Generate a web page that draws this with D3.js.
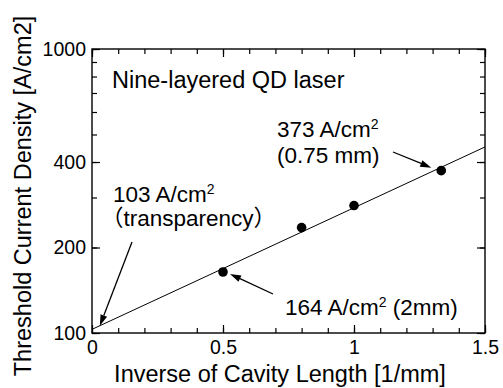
<!DOCTYPE html>
<html lang="en">
<head>
  <meta charset="UTF-8">
  <title>Threshold current density</title>
  <style>
    body { margin: 0; background: #fff; }
    svg { display: block; }
    text { font-family: "Liberation Sans", Arial, "Noto Sans CJK JP", sans-serif; fill: #000; }
    .tick text { font-size: 19.5px; }
    .axis-title { font-size: 23.5px; }
    .note { font-size: 22.5px; }
  </style>
</head>
<body>
<svg width="503" height="388"></svg>

<script src="https://cdn.jsdelivr.net/npm/d3@7/dist/d3.min.js"></script>
<script>
  // measured points: inverse cavity length [1/mm] vs threshold current density [A/cm2]
  const invLength = [0.5, 0.8, 1.0, 1.333];
  const jth = [164, 235, 281, 373];

  // fitted line (exponential, straight on the log axis)
  const fitX = [0, 1.5];
  const fitY = [103, 452];

  const xMinorTicks = [0, 0.1, 0.2, 0.3, 0.4, 0.5, 0.6, 0.7, 0.8, 0.9, 1.0, 1.1, 1.2, 1.3, 1.4, 1.5];
  const xMajorTicks = [0, 0.5, 1, 1.5];
  const yMinorTicks = [100, 200, 300, 400, 500, 600, 700, 800, 900, 1000];
  const yMajorTicks = [100, 200, 400, 1000];

  const svg = d3.select("svg");
  const plot = {left: 92, right: 485, top: 49, bottom: 333};

  const x = d3.scaleLinear().domain([0, 1.5]).range([plot.left, plot.right]);
  const y = d3.scaleLog().domain([100, 1000]).range([plot.bottom, plot.top]);

  function clean(g) {
    g.select(".domain").remove();
    g.selectAll(".tick line").attr("stroke", "#000").attr("stroke-width", 1.2);
  }

  // minor ticks on all four sides (pointing inward)
  svg.append("g").attr("transform", "translate(0," + plot.bottom + ")")
    .call(d3.axisBottom(x).tickValues(xMinorTicks).tickSize(-5).tickFormat(""))
    .call(clean);
  svg.append("g").attr("transform", "translate(0," + plot.top + ")")
    .call(d3.axisTop(x).tickValues(xMinorTicks).tickSize(-5).tickFormat(""))
    .call(clean);
  svg.append("g").attr("transform", "translate(" + plot.left + ",0)")
    .call(d3.axisLeft(y).tickValues(yMinorTicks).tickSize(-5).tickFormat(""))
    .call(clean);
  svg.append("g").attr("transform", "translate(" + plot.right + ",0)")
    .call(d3.axisRight(y).tickValues(yMinorTicks).tickSize(-5).tickFormat(""))
    .call(clean);

  // major ticks with labels
  svg.append("g").attr("transform", "translate(0," + plot.bottom + ")")
    .call(d3.axisBottom(x).tickValues(xMajorTicks).tickSize(-8).tickPadding(7)
      .tickFormat(d3.format("~g")))
    .call(clean);
  svg.append("g").attr("transform", "translate(0," + plot.top + ")")
    .call(d3.axisTop(x).tickValues(xMajorTicks).tickSize(-8).tickFormat(""))
    .call(clean);
  svg.append("g").attr("transform", "translate(" + plot.left + ",0)")
    .call(d3.axisLeft(y).tickValues(yMajorTicks).tickSize(-8).tickPadding(6)
      .tickFormat(d3.format("d")))
    .call(clean);
  svg.append("g").attr("transform", "translate(" + plot.right + ",0)")
    .call(d3.axisRight(y).tickValues(yMajorTicks).tickSize(-8).tickFormat(""))
    .call(clean);

  svg.selectAll("g").attr("font-family", null).attr("font-size", null);

  // frame
  svg.append("rect")
    .attr("x", plot.left).attr("y", plot.top)
    .attr("width", plot.right - plot.left).attr("height", plot.bottom - plot.top)
    .attr("fill", "none").attr("stroke", "#000").attr("stroke-width", 1.4);

  // fit line
  const line = d3.line().x(d => x(d[0])).y(d => y(d[1]));
  svg.append("path")
    .datum(d3.zip(fitX, fitY))
    .attr("d", line)
    .attr("fill", "none").attr("stroke", "#000").attr("stroke-width", 1);

  // points
  svg.selectAll("circle.pt")
    .data(d3.zip(invLength, jth))
    .join("circle")
    .attr("class", "pt")
    .attr("cx", d => x(d[0]))
    .attr("cy", d => y(d[1]))
    .attr("r", 4.8)
    .attr("fill", "#000");

  // axis titles
  svg.append("text")
    .attr("class", "axis-title")
    .attr("x", 280).attr("y", 382)
    .attr("text-anchor", "middle")
    .text("Inverse of Cavity Length [1/mm]");

  svg.append("text")
    .attr("class", "axis-title")
    .attr("transform", "translate(31,196) rotate(-90)")
    .attr("text-anchor", "middle")
    .text("Threshold Current Density [A/cm2]");

  // annotations
  svg.append("text")
    .attr("class", "note")
    .attr("x", 112).attr("y", 87.5)
    .style("font-size", "23.5px")
    .text("Nine-layered QD laser");

  function supText(xp, yp, before, after) {
    const t = svg.append("text").attr("class", "note").attr("x", xp).attr("y", yp);
    t.append("tspan").text(before);
    t.append("tspan").attr("dy", -8).style("font-size", "14px").text("2");
    if (after) t.append("tspan").attr("dy", 8).text(after);
    return t;
  }

  supText(277, 136.5, "373 A/cm");
  svg.append("text").attr("class", "note").attr("x", 277).attr("y", 163).text("(0.75 mm)");

  supText(113, 202, "103 A/cm");
  svg.append("text").attr("class", "note").attr("x", 101).attr("y", 226).text("（transparency）");

  supText(285, 315, "164 A/cm", " (2mm)");

  // arrows: start pixel, target data point, pixel offset of the tip
  const arrows = [
    {from: [393, 152], at: [1.333, 373], off: [-10, -3]},
    {from: [132, 242], at: [0.03, 106], off: [0, 0]},
    {from: [273, 294], at: [0.5, 164], off: [7, 2]}
  ];

  arrows.forEach(a => {
    const tx = x(a.at[0]) + a.off[0], ty = y(a.at[1]) + a.off[1];
    const [sx, sy] = a.from;
    const ang = Math.atan2(ty - sy, tx - sx);
    const len = 11, half = 3.5;
    const bx = tx - len * Math.cos(ang), by = ty - len * Math.sin(ang);
    svg.append("line")
      .attr("x1", sx).attr("y1", sy).attr("x2", bx).attr("y2", by)
      .attr("stroke", "#000").attr("stroke-width", 1.3);
    const p1 = [bx + half * Math.sin(ang), by - half * Math.cos(ang)];
    const p2 = [bx - half * Math.sin(ang), by + half * Math.cos(ang)];
    svg.append("path")
      .attr("d", "M" + tx + "," + ty + "L" + p1 + "L" + p2 + "Z")
      .attr("fill", "#000");
  });
</script>
</body>
</html>
